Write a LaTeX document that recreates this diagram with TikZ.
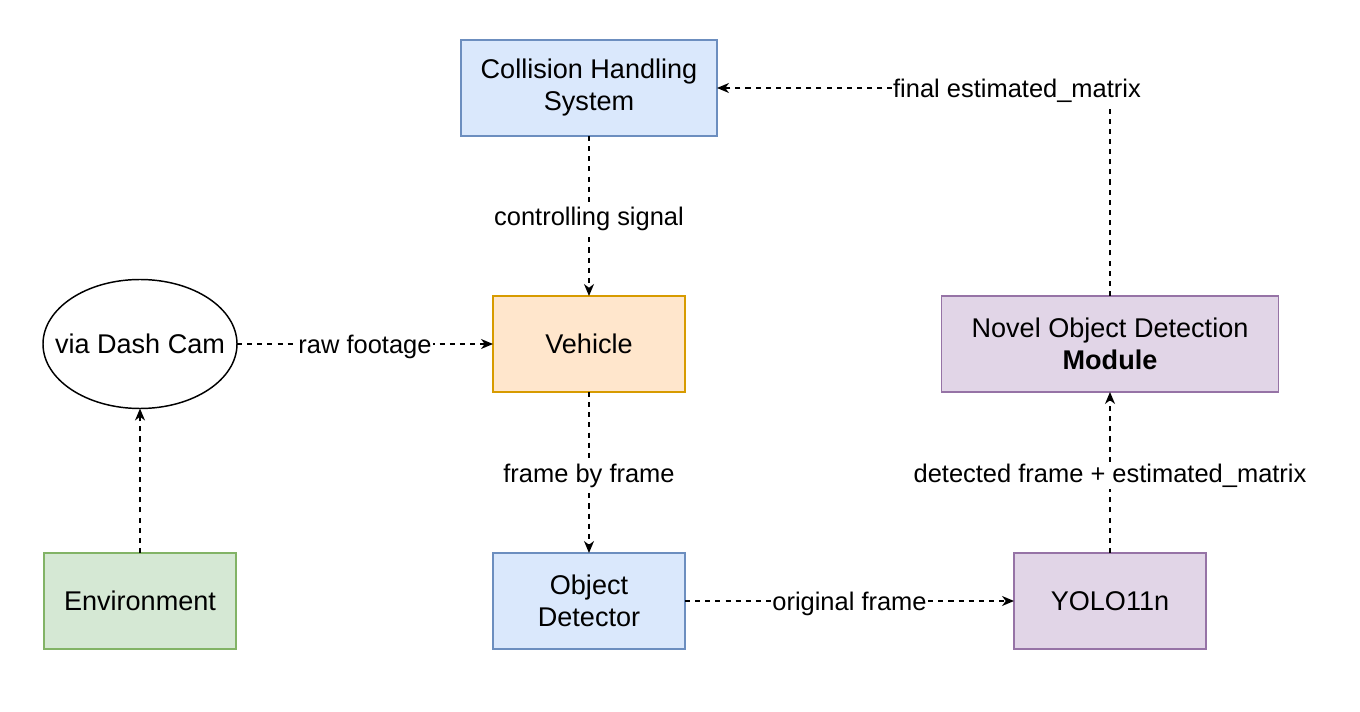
\documentclass[tikz,border=0pt]{standalone}
\usepackage{fontspec}
\setmainfont{Liberation Sans}
\usetikzlibrary{arrows.meta,shapes.geometric}
\definecolor{bluef}{HTML}{DAE8FC}\definecolor{blued}{HTML}{6C8EBF}
\definecolor{orf}{HTML}{FFE6CC}\definecolor{ord}{HTML}{D79B00}
\definecolor{grf}{HTML}{D5E8D4}\definecolor{grd}{HTML}{82B366}
\definecolor{puf}{HTML}{E1D5E7}\definecolor{pud}{HTML}{9673A6}
\begin{document}
\begin{tikzpicture}[x=0.75pt,y=-0.75pt,
  box/.style={draw, line width=1.1pt, inner sep=0pt, outer sep=0pt, align=center,
    font=\fontsize{20.3}{24}\selectfont, minimum height=72pt},
  bluebox/.style={box, fill=bluef, draw=blued},
  orbox/.style={box, fill=orf, draw=ord},
  grbox/.style={box, fill=grf, draw=grd},
  pubox/.style={box, fill=puf, draw=pud},
  conn/.style={line width=1.1pt, dash pattern=on 3.8pt off 3.8pt,
    -{Stealth[length=9pt,width=7.5pt,inset=2.8pt]}},
  lbl/.style={fill=white, inner sep=1pt, yshift=-2.2pt, font=\fontsize{19.1}{23}\selectfont}]
\useasboundingbox (0,0) rectangle (1360,712);
\node[bluebox, minimum width=192pt] (chs) at (589,88) {Collision Handling\\System};
\node[orbox, minimum width=144pt] (veh) at (589,344) {Vehicle};
\node[draw, ellipse, line width=1.1pt, inner sep=0pt, outer sep=0pt, minimum width=145.5pt,
  minimum height=96.75pt] (cam) at (140,344) {};
\node[font=\fontsize{20.3}{24}\selectfont, inner sep=0pt] (camtext) at (cam.center) {via Dash Cam};
\node[grbox, minimum width=144pt] (env) at (140,601) {Environment};
\node[bluebox, minimum width=144pt] (od) at (589,601) {Object\\Detector};
\node[pubox, minimum width=144pt] (yolo) at (1110,601) {YOLO11n};
\node[pubox, minimum width=252.75pt] (nod) at (1110,344) {Novel Object Detection\\\textbf{Module}};
\coordinate (corner) at (1110,88);
\draw[conn] (chs.south) -- node[lbl] (l1) {controlling signal} (veh.north);
\draw[conn] (cam.east) -- node[lbl] (l2) {raw footage} (veh.west);
\draw[conn] (env.north) -- (cam.south);
\draw[conn] (veh.south) -- node[lbl] (l3) {frame by frame} (od.north);
\draw[conn] (od.east) -- node[lbl] (l4) {original frame} (yolo.west);
\draw[conn] (yolo.north) -- node[lbl] (l5) {detected frame + estimated\_matrix} (nod.south);
\draw[conn] (nod.north) -- (corner) -- (chs.east);
\node[lbl] (l6) at (1017,88) {final estimated\_matrix};
\end{tikzpicture}
\end{document}
